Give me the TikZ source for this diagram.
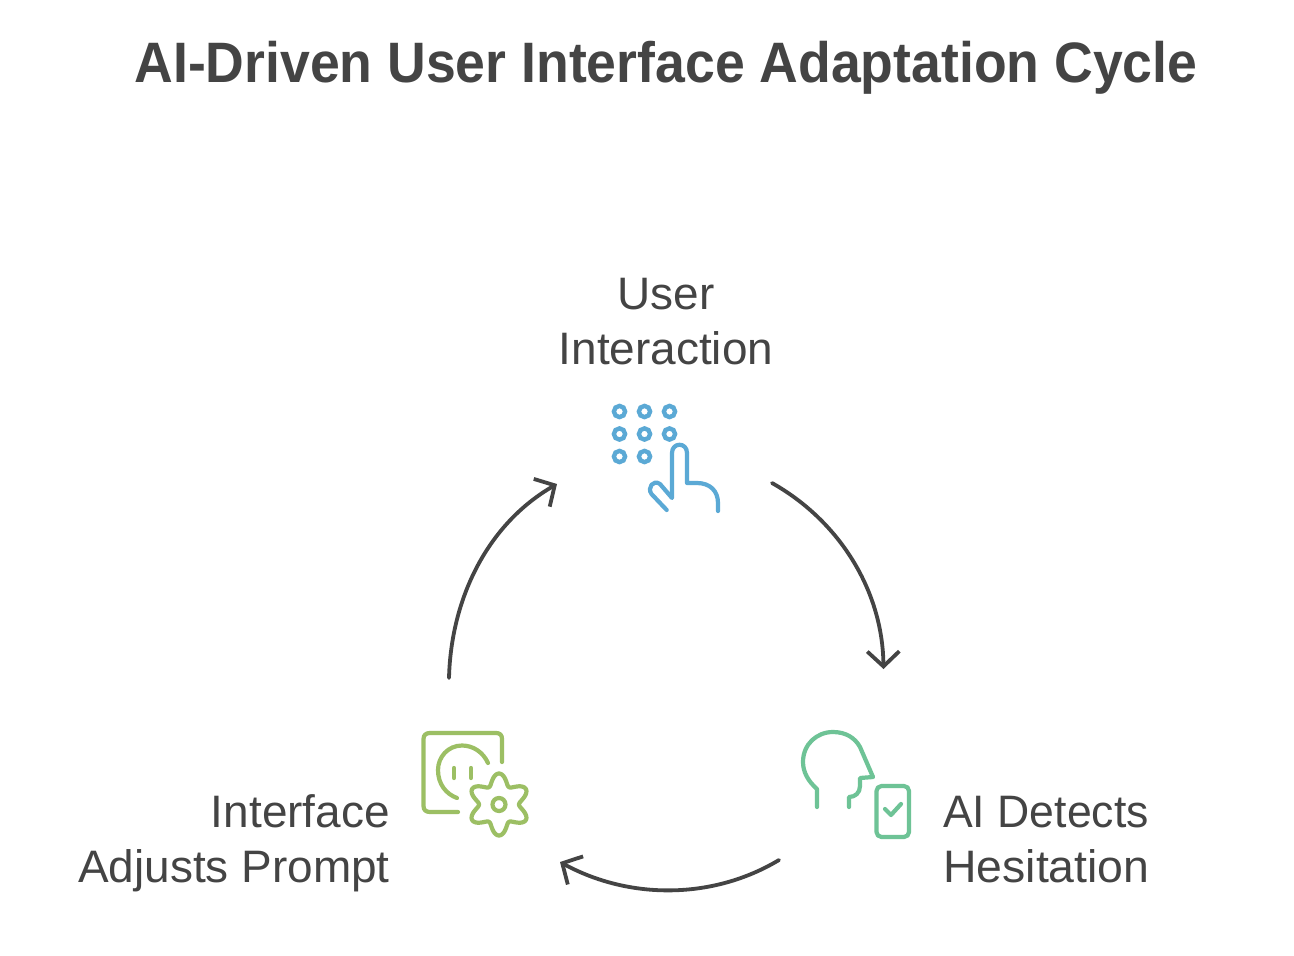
\documentclass[tikz,border=0pt]{standalone}
\usepackage{fontspec}
\usepackage{graphicx}
\setmainfont{Liberation Sans}
\newfontfamily\titlefont[FakeStretch=0.94]{Liberation Sans}
\newfontfamily\labelfont[FakeStretch=1.01]{Liberation Sans}
\usetikzlibrary{arrows.meta}
\definecolor{ink}{HTML}{444444}
\definecolor{iblue}{HTML}{5BA9D5}
\definecolor{ilime}{HTML}{9CBF64}
\definecolor{iteal}{HTML}{6EC396}
\tikzset{
  cyclearrow/.style={draw=ink,line width=3.8pt,line cap=round,-{Straight Barb[length=15pt,width=32pt,line width=3.8pt]}},
  iconline/.style={line width=4.2pt,line cap=round,line join=round},
  label/.style={text=ink,font=\labelfont\fontsize{45.5}{55}\selectfont,inner sep=0pt},
  titletext/.style={text=ink,font=\titlefont\bfseries\fontsize{57}{60}\selectfont,inner sep=0pt}
}
\begin{document}
\begin{tikzpicture}[x=1pt,y=-1pt]
\useasboundingbox (0,0) rectangle (1294,956);
\fill[white] (0,0) rectangle (1294,956);
\node[titletext,anchor=base] (title) at (666,82) {AI-Driven User Interface Adaptation Cycle};
\node[label,align=center] (user) at (666,322) {User\\Interaction};
\node[label,align=right,anchor=east] (adjust) at (390,843) {Interface\\Adjusts Prompt};
\node[label,align=left,anchor=west] (detect) at (943,839.5) {\scalebox{0.97}[1]{AI Detects}\\\scalebox{1.01}[1]{Hesitation}};
% blue icon
\foreach \x in {619.5,644.5,669.5}\foreach \y in {411.5,434}
  \draw[iblue,line width=4.4pt] (\x,\y) circle (5.6);
\foreach \x in {619.5,644.5}
  \draw[iblue,line width=4.4pt] (\x,456.5) circle (5.6);
\draw[iblue,iconline] (666.7,510) -- (651.5,494) .. controls (647,488) and (653,479) .. (660,484) -- (672,498) -- (672,453)
  .. controls (672,442) and (687,442) .. (687,453) -- (687,483) -- (697,483) .. controls (710,483) and (718,491) .. (718,503) -- (718,511);
% lime icon
\draw[ilime,iconline] (458,812) -- (430,812) .. controls (426,812) and (423.5,810) .. (423.5,806) -- (423.5,739)
  .. controls (423.5,735) and (426,733) .. (430,733) -- (496,733) .. controls (500,733) and (502,735) .. (502,739) -- (502,762);
\draw[ilime,iconline] (488,763) .. controls (483,752) and (473,745.5) .. (462,745.5) .. controls (448,745.5) and (438,757) .. (438,770) .. controls (438,784) and (446,794) .. (457,798);
\draw[ilime,iconline] (454,768) -- (454,778) (471,768) -- (471,778);
\draw[ilime,iconline] plot[domain=0:360,samples=181] ({499+(25.5-5.5*cos(6*\x))*cos(\x)},{804.5+(25.5-5.5*cos(6*\x))*sin(\x)}) -- cycle;
\draw[ilime,line width=4.2pt] (499,804.5) circle (6.5);
% teal icon
\draw[iteal,iconline] (817,807) -- (817,789) .. controls (808,781) and (803,772) .. (803,762)
  .. controls (803,744) and (817,732) .. (833,732) .. controls (846,732) and (855,738) .. (860,747) -- (873,777) -- (860,778) -- (860,786)
  .. controls (860,793) and (855,797) .. (849,797) -- (849,807);
\draw[iteal,iconline,rounded corners=5pt] (876.5,786) rectangle (909,837);
\draw[iteal,iconline] (885,809) -- (891,815) -- (901,804);
% connectors
\coordinate (a1) at (772,483); \coordinate (a2) at (883.5,669);
\coordinate (b1) at (779,860); \coordinate (b2) at (560,862);
\coordinate (c1) at (449,678); \coordinate (c2) at (557,484);
\draw[cyclearrow] (a1) .. controls (839.5,521) and (882.6,590.6) .. (a2);
\draw[cyclearrow] (b1) .. controls (712.4,900) and (628.9,899.6) .. (b2);
\draw[cyclearrow] (c1) .. controls (451,598.5) and (487.5,524) .. (c2);
\end{tikzpicture}
\end{document}
